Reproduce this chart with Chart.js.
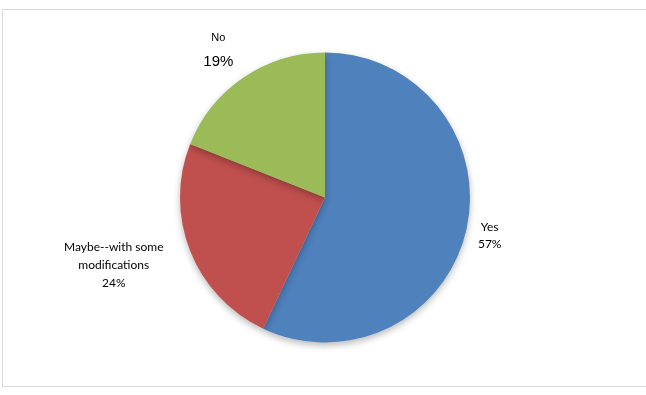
<!DOCTYPE html>
<html>
<head>
<meta charset="utf-8">
<script src="https://cdn.jsdelivr.net/npm/chart.js@4.4.1/dist/chart.umd.min.js"></script>
<style>
  html, body { margin: 0; padding: 0; background: #fff; }
  #wrap { position: relative; width: 646px; height: 395px; }
</style>
</head>
<body>
<div id="wrap"><canvas id="myChart"></canvas></div>
<script>
// datos del grafico
var categories = ['Yes', ['Maybe--with some', 'modifications'], 'No']
var values = [57, 24, 19]
var colors = ['#4F81BD', '#C0504D', '#9BBB59']

// estilo de cada etiqueta (la de "No" viene en otra fuente)
var labelFonts = [
    { name: '12px Lato', pct: '12px Lato', lineH: 17, dx: 0, dy: 0 },
    { name: '12px Lato', pct: '12px Lato', lineH: 18, dx: -19, dy: 0 },
    { name: '11px "Liberation Sans"', pct: '15px "Liberation Sans"', lineH: 24, dx: -10, dy: 2 }
]

const frame = {
    id: 'frame',
    beforeDraw(chart) {
        const c = chart.ctx
        c.save()
        c.strokeStyle = '#d9d9d9'
        c.lineWidth = 1
        c.strokeRect(2.5, 9.5, 660, 377)
        c.restore()
    }
}

const sombra = {
    id: 'sombra',
    beforeDatasetDraw(chart) {
        const c = chart.ctx
        c.save()
        c.shadowColor = 'rgba(0,0,0,0.28)'
        c.shadowBlur = 7
        c.shadowOffsetY = 3
    },
    afterDatasetDraw(chart) {
        chart.ctx.restore()
    }
}

const etiquetas = {
    id: 'etiquetas',
    afterDatasetsDraw(chart) {
        const c = chart.ctx
        const meta = chart.getDatasetMeta(0)
        const total = values.reduce((a, b) => a + b, 0)
        meta.data.forEach((arc, i) => {
            const p = arc.getProps(['x', 'y', 'startAngle', 'endAngle', 'outerRadius'], true)
            const mid = (p.startAngle + p.endAngle) / 2
            const f = labelFonts[i]
            let lines = [].concat(categories[i])
            let fonts = lines.map(() => f.name)
            lines.push(Math.round(values[i] / total * 100) + '%')
            fonts.push(f.pct)
            let w = 0
            lines.forEach((t, k) => {
                c.font = fonts[k]
                w = Math.max(w, c.measureText(t).width)
            })
            const h = lines.length * f.lineH
            const r = p.outerRadius + 12
            const cx = p.x + Math.cos(mid) * r + Math.cos(mid) * w / 2 + f.dx
            const cy = p.y + Math.sin(mid) * r + Math.sin(mid) * h / 2 + f.dy
            c.save()
            c.fillStyle = '#000'
            c.textAlign = 'center'
            c.textBaseline = 'middle'
            lines.forEach((t, k) => {
                c.font = fonts[k]
                c.fillText(t, cx, cy - h / 2 + f.lineH * (k + 0.5))
            })
            c.restore()
        })
    }
}

var ctx = document.getElementById('myChart').getContext('2d')
var myChart = new Chart(ctx, {
    type: 'pie',
    data: {
        labels: categories,
        datasets: [{
            data: values,
            backgroundColor: colors,
            borderWidth: 0
        }]
    },
    options: {
        responsive: true,
        maintainAspectRatio: false,
        animation: false,
        layout: { padding: { top: 52, bottom: 52, left: 180, right: 176 } },
        plugins: {
            legend: { display: false },
            tooltip: { enabled: false }
        }
    },
    plugins: [frame, sombra, etiquetas]
});
</script>
</body>
</html>
